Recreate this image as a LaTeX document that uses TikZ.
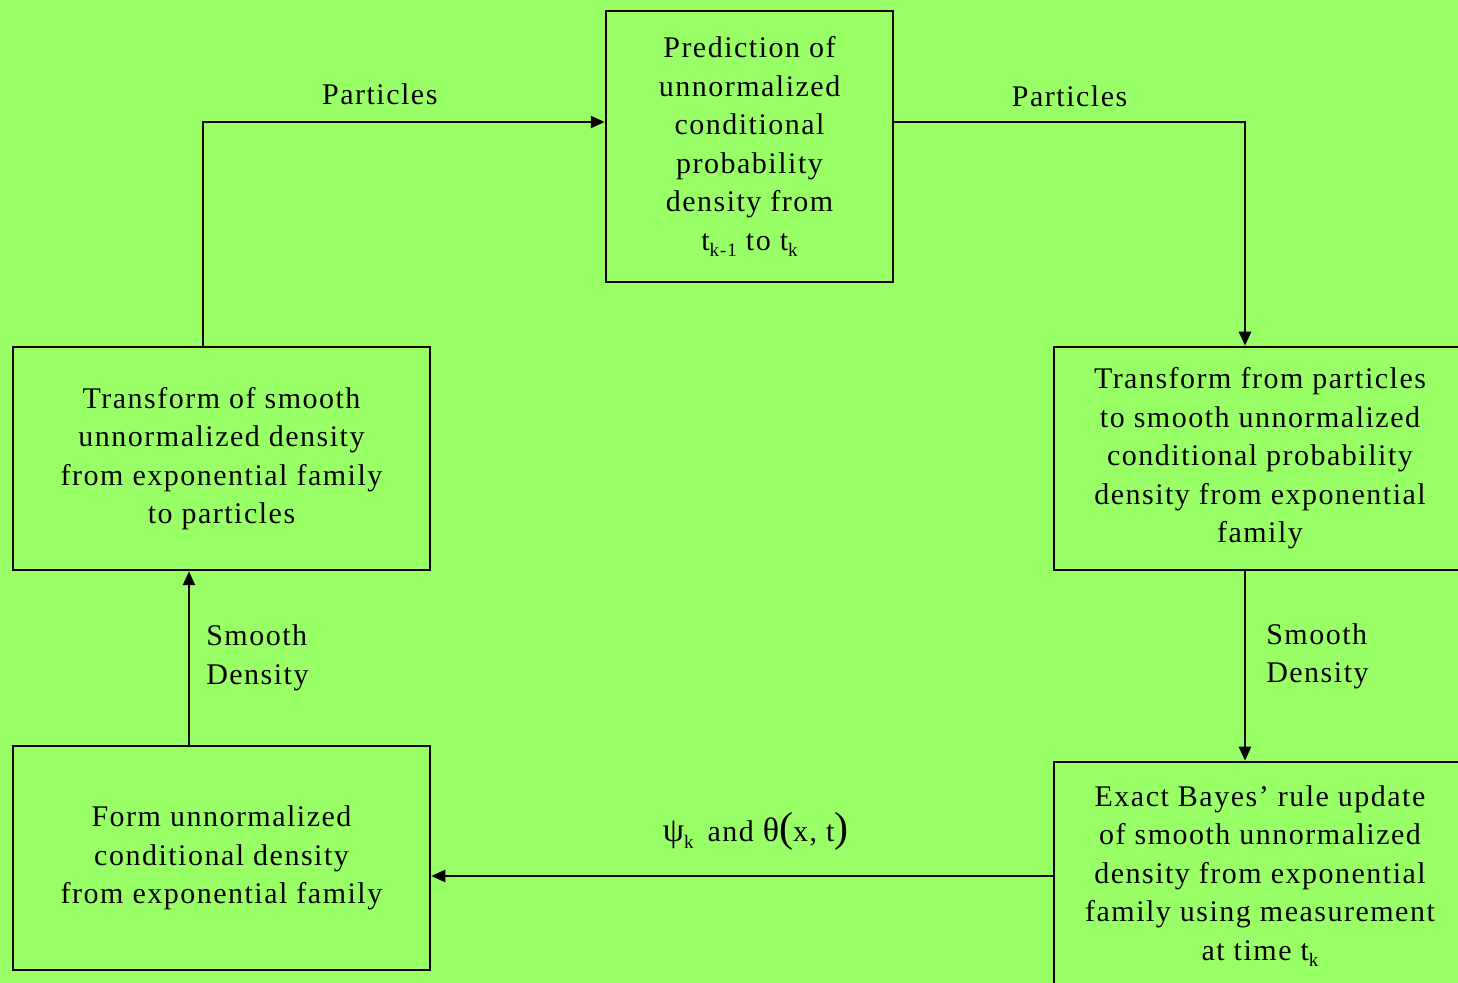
\documentclass[tikz,border=0pt]{standalone}
\usepackage{fontspec}
\setmainfont{Liberation Serif}[LetterSpace=5]
\usetikzlibrary{positioning}
\usetikzlibrary{arrows.meta}
\definecolor{bggreen}{RGB}{153,255,102}
\newcommand\lowsub[1]{\raisebox{-0.45ex}{\fontsize{9.5}{10}\selectfont #1}}
\tikzset{
  stagebox/.style= {
    rectangle,
    draw = black,
    line width = 1.25pt,
    inner sep = 0pt,
    align = center,
    font = \fontsize{15}{19.25}\selectfont
  },
  flowlabel/.style= {
    inner sep = 0pt,
    font = \fontsize{15}{19.25}\selectfont
  },
  flow/.style= {
    -{Triangle[length=7pt,width=6pt]},
    line width = 1.25pt
  }
}
\begin{document}
\begin{tikzpicture}[x=0.5pt,y=-0.5pt]
  \fill[bggreen] (0,0) rectangle (1458,983);
  \useasboundingbox (0,0) rectangle (1458,983);
  \clip (0,0) rectangle (1458,983);

  \node[stagebox,minimum width=143.5pt,minimum height=135.5pt] (pred) at (749.5,146.5)
    {Prediction of\\unnormalized\\conditional\\probability\\density from\\t\lowsub{k-1} to t\lowsub{k}};
  \node[stagebox,minimum width=208.5pt,minimum height=111.5pt] (lmid) at (221.5,458.5)
    {Transform of smooth\\unnormalized density\\from exponential family\\to particles};
  \node[stagebox,minimum width=206pt,minimum height=111.5pt] (rmid) at (1260,458.5)
    {Transform from particles\\to smooth unnormalized\\conditional probability\\density from exponential\\family};
  \node[stagebox,minimum width=206pt,minimum height=114pt] (rbot) at (1260,876)
    {Exact Bayes' rule update\\of smooth unnormalized\\density from exponential\\family using measurement\\at time t\lowsub{k}};
  \node[stagebox,minimum width=208.5pt,minimum height=112pt] (lbot) at (221.5,858)
    {Form unnormalized\\conditional density\\from exponential family};

  % connectors round the loop
  \draw[flow] ([xshift=-9.25pt]lmid.north) |- ([yshift=12.25pt]pred.west)
    node[flowlabel,pos=0.72,above=8pt] (lblpa) {Particles};
  \draw[flow] ([yshift=12.25pt]pred.east) -| ([xshift=-7.5pt]rmid.north)
    node[flowlabel,pos=0.25,above=7pt] (lblpb) {Particles};
  \draw[flow] ([xshift=-7.5pt]rmid.south) -- ([xshift=-7.5pt]rbot.north)
    node[flowlabel,pos=0.45,right=10pt,align=left] (lblsa) {Smooth\\Density};
  \draw[flow] (rbot.west) -- (rbot.west -| lbot.east)
    node[flowlabel,pos=0.478,above=12pt] (lblpsi) {{\fontsize{17}{17}\selectfont ψ}\lowsub{k}\, and {\fontsize{17}{17}\selectfont θ}{\fontsize{21}{21}\selectfont(}x, t{\fontsize{21}{21}\selectfont)}};
  \draw[flow] ([xshift=-16.25pt]lbot.north) -- ([xshift=-16.25pt]lmid.south)
    node[flowlabel,midway,right=8pt,align=left] (lblsb) {Smooth\\Density};
\end{tikzpicture}
\end{document}
